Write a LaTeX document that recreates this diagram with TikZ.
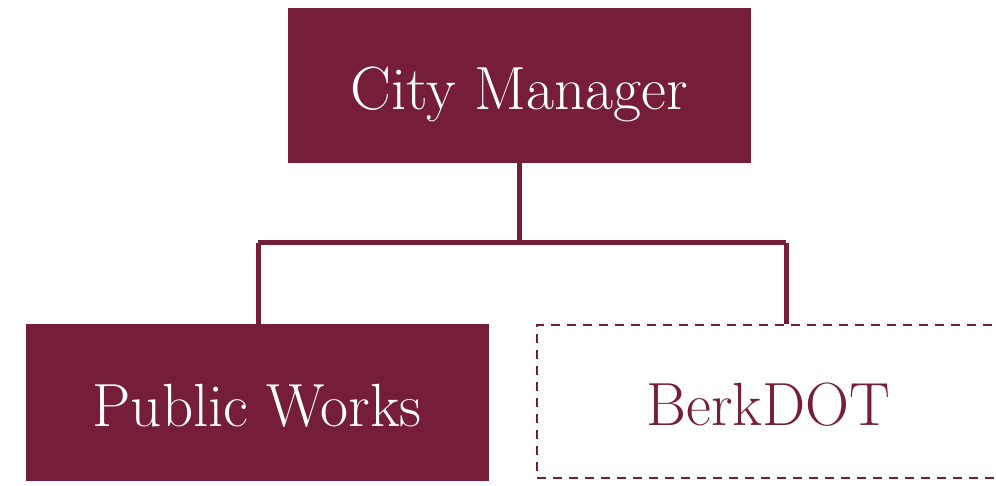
\documentclass[tikz,border=0pt]{standalone}
\usetikzlibrary{calc}
\definecolor{berkred}{RGB}{118,30,55}
\tikzset{
  unitbox/.style={rectangle, minimum width=463pt, minimum height=155pt, inner sep=0pt,
    text height=48pt, text depth=0pt, font=\fontsize{61}{64}\selectfont},
  filledbox/.style={unitbox, fill=berkred, text=white},
  planbox/.style={unitbox, draw=berkred, line width=2.6pt, dash pattern=on 9pt off 7pt, text=berkred},
  link/.style={draw=berkred, line width=5pt}
}
\begin{document}
\begin{tikzpicture}[x=1pt, y=-1pt]
\useasboundingbox (0,0) rectangle (996,486);

\node[filledbox] (cm) at (519.5, 85.5) {City Manager};
\node[filledbox, minimum height=156pt] (pw) at (257, 402.5) {Public Works};
\node[planbox, minimum height=153pt] (bd) at (768.5, 401.5) {BerkDOT};

\coordinate (jc) at (519.5, 243);
\coordinate (jl) at (258, 243);
\coordinate (jr) at (786, 243);

\draw[link] (cm.south) -- (jc);
\draw[link] (jl) -- (jr);
\draw[link] (jl) -- (jl |- pw.north);
\draw[link] (jr) -- (jr |- bd.north);

\end{tikzpicture}
\end{document}
